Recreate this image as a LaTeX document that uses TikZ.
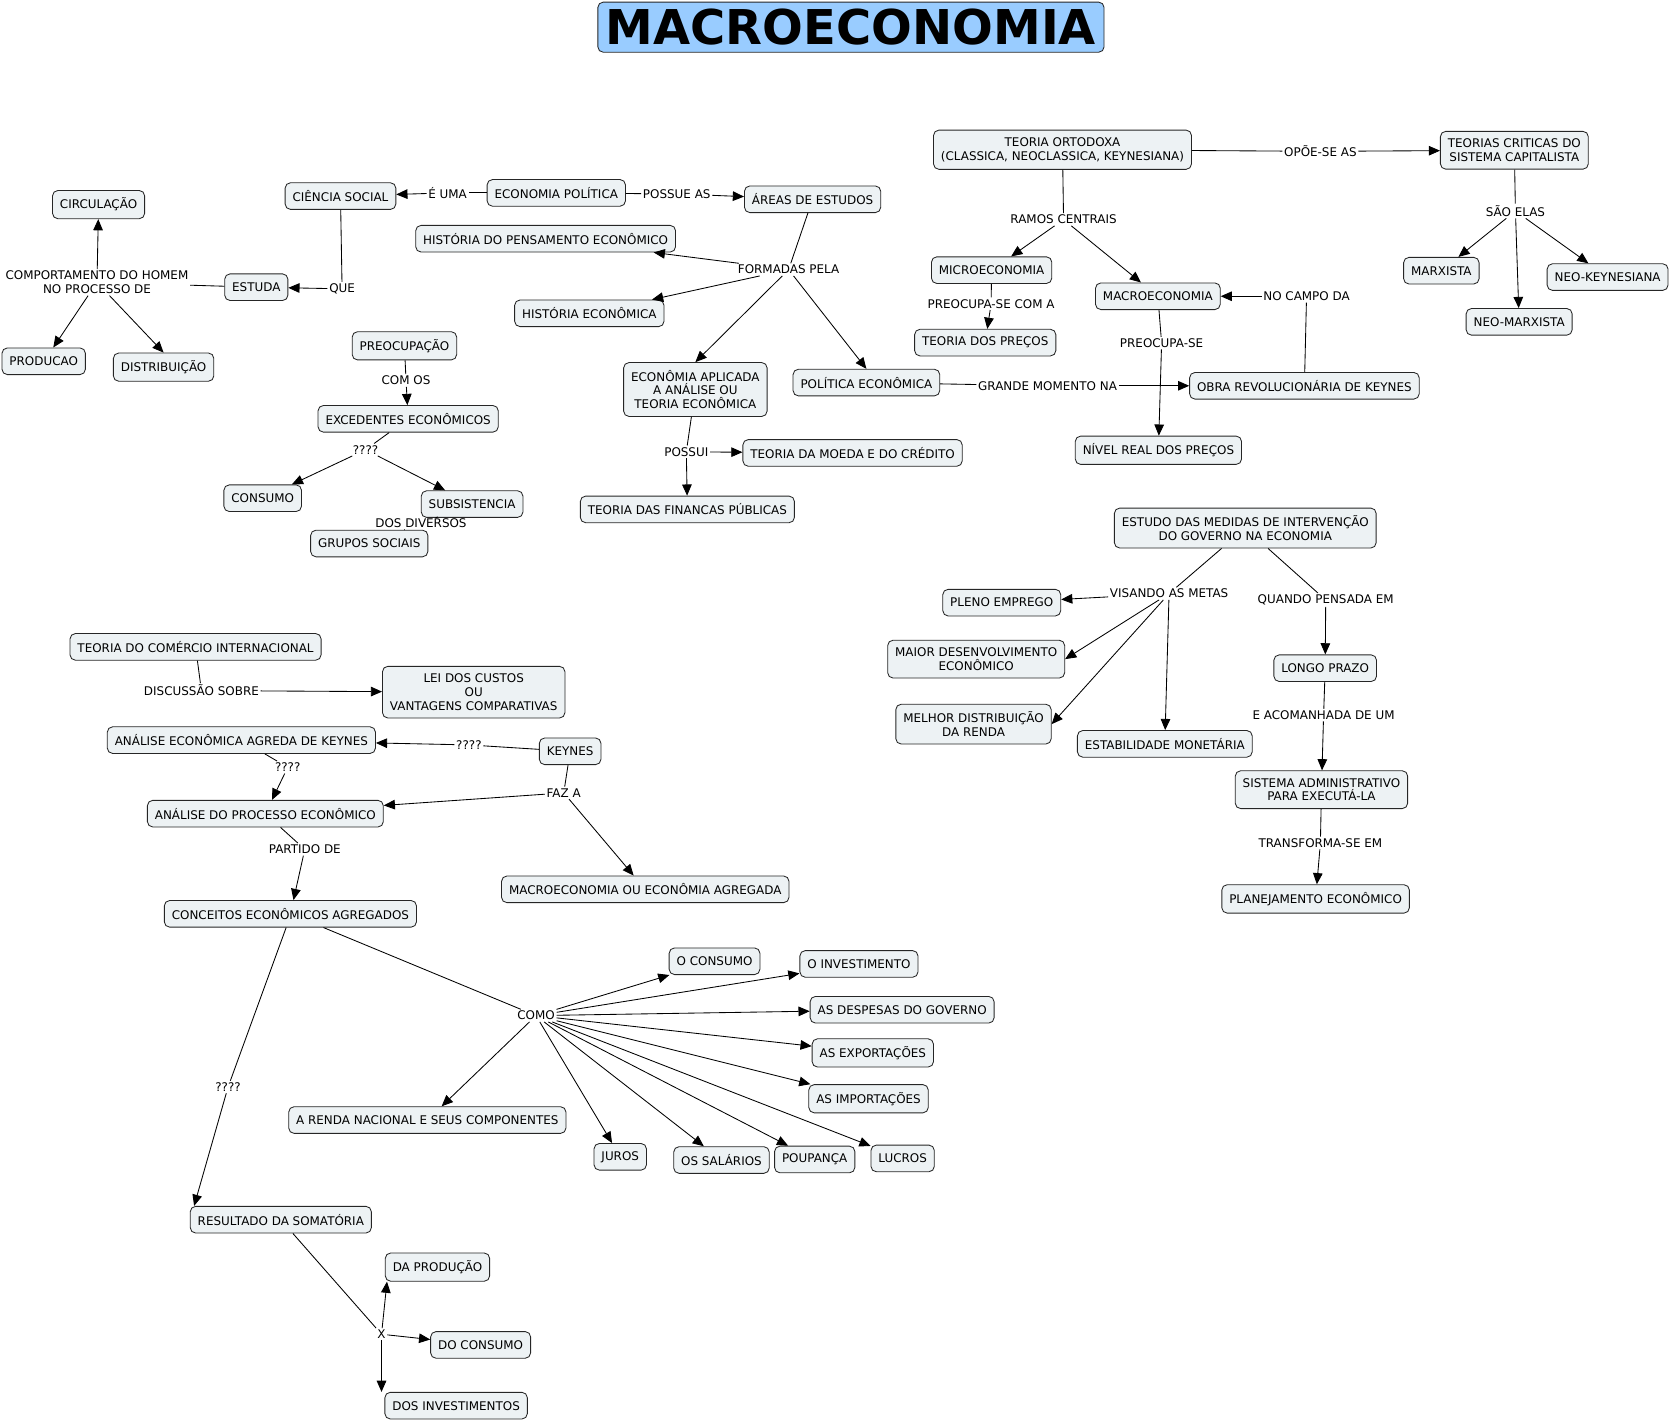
\documentclass[tikz,border=0pt]{standalone}
\usepackage{fontspec}
\setmainfont{DejaVu Sans}
\usetikzlibrary{arrows.meta}
\definecolor{boxfill}{RGB}{237,242,244}
\definecolor{titlefill}{RGB}{153,204,255}
\begin{document}
\begin{tikzpicture}[x=1bp,y=-1bp,
  concept/.style={draw=black!85, fill=boxfill, rounded corners=5bp, line width=0.8bp, inner xsep=7bp, inner ysep=7bp, minimum height=25bp, align=center, font=\fontsize{11.2bp}{13bp}\selectfont},
  lbl/.style={inner sep=1.5bp, align=center, font=\fontsize{11.2bp}{13bp}\selectfont},
  ln/.style={line width=0.8bp},
  arr/.style={line width=0.8bp, -{Triangle[length=10.5bp,width=9bp]}},
]
\useasboundingbox (0,0) rectangle (1568,1334);
\node[draw=black!85, fill=titlefill, rounded corners=5bp, line width=0.8bp, minimum width=475bp, minimum height=47bp, inner sep=0pt, font=\fontsize{45bp}{45bp}\bfseries\selectfont] (title) at (798.5,25.5) {MACROECONOMIA};

% concepts
\node[concept] (circ) at (92.5,192) {CIRCULAÇÃO};
\node[concept] (ciencia) at (319.5,184) {CIÊNCIA SOCIAL};
\node[concept] (ecopol) at (522,181) {ECONOMIA POLÍTICA};
\node[concept] (areas) at (762.5,187) {ÁREAS DE ESTUDOS};
\node[concept] (hpe) at (512,224) {HISTÓRIA DO PENSAMENTO ECONÔMICO};
\node[concept] (estuda) at (240.5,269.5) {ESTUDA};
\node[concept] (producao) at (41,339) {PRODUCAO};
\node[concept] (distrib) at (153.5,344.5) {DISTRIBUIÇÃO};
\node[concept] (histeco) at (553,294) {HISTÓRIA ECONÔMICA};
\node[concept] (preocup) at (379.5,324.5) {PREOCUPAÇÃO};
\node[concept] (exced) at (383,393) {EXCEDENTES ECONÔMICOS};
\node[concept] (consumo) at (246.5,467.5) {CONSUMO};
\node[concept] (subsist) at (443,473) {SUBSISTENCIA};
\node[concept] (grupos) at (346.5,510) {GRUPOS SOCIAIS};
\node[concept] (aplicada) at (652.5,365.5) {ECONÔMIA APLICADA\\A ANÁLISE OU\\TEORIA ECONÔMICA};
\node[concept] (politica) at (813,359) {POLÍTICA ECONÔMICA};
\node[concept] (moeda) at (800,425) {TEORIA DA MOEDA E DO CRÉDITO};
\node[concept] (financas) at (645,478) {TEORIA DAS FINANCAS PÚBLICAS};
\node[concept] (ortodoxa) at (997,140.5) {TEORIA ORTODOXA\\(CLASSICA, NEOCLASSICA, KEYNESIANA)};
\node[concept] (criticas) at (1421,141) {TEORIAS CRITICAS DO\\SISTEMA CAPITALISTA};
\node[concept] (micro) at (930.5,253.5) {MICROECONOMIA};
\node[concept] (macro) at (1086.5,278) {MACROECONOMIA};
\node[concept] (precos) at (924.5,321.5) {TEORIA DOS PREÇOS};
\node[concept] (obra) at (1224,362) {OBRA REVOLUCIONÁRIA DE KEYNES};
\node[concept] (nivel) at (1087,422.5) {NÍVEL REAL DOS PREÇOS};
\node[concept] (marxista) at (1352.5,254) {MARXISTA};
\node[concept] (neokey) at (1508.5,260) {NEO-KEYNESIANA};
\node[concept] (neomarx) at (1425.5,302) {NEO-MARXISTA};
\node[concept] (medidas) at (1168.5,495.5) {ESTUDO DAS MEDIDAS DE INTERVENÇÃO\\DO GOVERNO NA ECONOMIA};
\node[concept] (pleno) at (940,565.5) {PLENO EMPREGO};
\node[concept] (maior) at (916,618.5) {MAIOR DESENVOLVIMENTO\\ECONÔMICO};
\node[concept] (melhor) at (913.5,679.5) {MELHOR DISTRIBUIÇÃO\\DA RENDA};
\node[concept] (estab) at (1093,698) {ESTABILIDADE MONETÁRIA};
\node[concept] (longo) at (1243.5,627) {LONGO PRAZO};
\node[concept] (sistema) at (1240,741) {SISTEMA ADMINISTRATIVO\\PARA EXECUTÁ-LA};
\node[concept] (planej) at (1234.5,843.5) {PLANEJAMENTO ECONÔMICO};
\node[concept] (comercio) at (183.5,607) {TEORIA DO COMÉRCIO INTERNACIONAL};
\node[concept] (lei) at (444.5,649.5) {LEI DOS CUSTOS\\OU\\VANTAGENS COMPARATIVAS};
\node[concept] (agreda) at (226.5,694.5) {ANÁLISE ECONÔMICA AGREDA DE KEYNES};
\node[concept] (keynes) at (535,705) {KEYNES};
\node[concept] (processo) at (249,763.5) {ANÁLISE DO PROCESSO ECONÔMICO};
\node[concept] (macroou) at (605.5,834.5) {MACROECONOMIA OU ECONÔMIA AGREGADA};
\node[concept] (conceitos) at (272.5,857.5) {CONCEITOS ECONÔMICOS AGREGADOS};
\node[concept] (oconsumo) at (670.5,902) {O CONSUMO};
\node[concept] (oinvest) at (806,904.5) {O INVESTIMENTO};
\node[concept] (despesas) at (846.5,947.5) {AS DESPESAS DO GOVERNO};
\node[concept] (export) at (819,988) {AS EXPORTAÇÕES};
\node[concept] (import) at (815,1031) {AS IMPORTAÇÕES};
\node[concept] (renda) at (401,1051) {A RENDA NACIONAL E SEUS COMPONENTES};
\node[concept] (juros) at (582,1085.5) {JUROS};
\node[concept] (salarios) at (677,1088.5) {OS SALÁRIOS};
\node[concept] (poupanca) at (764.5,1088) {POUPANÇA};
\node[concept] (lucros) at (847,1087) {LUCROS};
\node[concept] (resultado) at (263.5,1144.5) {RESULTADO DA SOMATÓRIA};
\node[concept] (daprod) at (410.5,1189) {DA PRODUÇÃO};
\node[concept] (docons) at (451,1262) {DO CONSUMO};
\node[concept] (dosinv) at (428,1319) {DOS INVESTIMENTOS};

% linking phrases
\node[lbl] (leuma) at (420,181) {É UMA};
\node[lbl] (lpossue) at (635,182) {POSSUE AS};
\node[lbl] (lformadas) at (740,253) {FORMADAS PELA};
\node[lbl] (lque) at (321,271) {QUE};
\node[lbl] (lcomport) at (91,265) {COMPORTAMENTO DO HOMEM\\NO PROCESSO DE};
\node[lbl] (lcomos) at (381,357) {COM OS};
\node[lbl] (lqa) at (343,422) {????};
\node[lbl] (ldiversos) at (395,491) {DOS DIVERSOS};
\node[lbl] (lpossui) at (644,424) {POSSUI};
\node[lbl] (lramos) at (998,206) {RAMOS CENTRAIS};
\node[lbl] (lopoe) at (1239,142) {OPÕE-SE AS};
\node[lbl] (lsao) at (1422,198) {SÃO ELAS};
\node[lbl] (lpreocom) at (930,285) {PREOCUPA-SE COM A};
\node[lbl] (lpreo) at (1090,322) {PREOCUPA-SE};
\node[lbl] (lcampo) at (1226,278) {NO CAMPO DA};
\node[lbl] (lgrande) at (983,362) {GRANDE MOMENTO NA};
\node[lbl] (lvisando) at (1097,557) {VISANDO AS METAS};
\node[lbl] (lquando) at (1244,563) {QUANDO PENSADA EM};
\node[lbl] (lacom) at (1242,671) {E ACOMANHADA DE UM};
\node[lbl] (ltransf) at (1239,791) {TRANSFORMA-SE EM};
\node[lbl] (ldisc) at (189,648) {DISCUSSÃO SOBRE};
\node[lbl] (lqb) at (440,699) {????};
\node[lbl] (lqc) at (270,720) {????};
\node[lbl] (lfaz) at (529,744) {FAZ A};
\node[lbl] (lpartido) at (286,797) {PARTIDO DE};
\node[lbl] (lcomo) at (503,953) {COMO};
\node[lbl] (lqd) at (214,1020) {????};
\node[lbl] (lx) at (358,1252) {X};

% connectors
\draw[ln] (ecopol) -- (leuma); \draw[arr] (leuma) -- (ciencia);
\draw[ln] (ecopol) -- (lpossue); \draw[arr] (lpossue) -- (areas);
\draw[ln] (areas) -- (lformadas);
\draw[arr] (lformadas) -- (hpe);
\draw[arr] (lformadas) -- (histeco);
\draw[arr] (lformadas) -- (aplicada.north);
\draw[arr] (lformadas) -- (politica.north);
\draw[ln] (ciencia) -- (lque); \draw[arr] (lque) -- (estuda);
\draw[ln] (estuda) -- (lcomport);
\draw[arr] (lcomport) -- (circ);
\draw[arr] (lcomport) -- ([xshift=9bp]producao.north);
\draw[arr] (lcomport) -- (distrib.north);
\draw[ln] (preocup) -- (lcomos); \draw[arr] (lcomos) -- (exced);
\draw[ln] (exced) -- (lqa);
\draw[arr] (lqa) -- (consumo);
\draw[arr] (lqa) -- (subsist);
\draw[ln] (subsist) -- (ldiversos); \draw[ln] (ldiversos) -- (grupos);
\draw[ln] (aplicada) -- (lpossui);
\draw[arr] (lpossui) -- (moeda);
\draw[arr] (lpossui) -- (financas);
\draw[ln] (ortodoxa) -- (lramos);
\draw[arr] (lramos) -- (micro);
\draw[arr] (lramos) -- (macro);
\draw[ln] (ortodoxa) -- (lopoe); \draw[arr] (lopoe) -- (criticas);
\draw[ln] (criticas) -- (lsao);
\draw[arr] (lsao) -- (marxista);
\draw[arr] (lsao) -- (neokey);
\draw[arr] (lsao) -- (neomarx);
\draw[ln] (micro) -- (lpreocom); \draw[arr] (lpreocom) -- (precos);
\draw[ln] (macro) -- (lpreo); \draw[arr] (lpreo) -- (nivel);
\draw[ln] (obra) -- (lcampo); \draw[arr] (lcampo) -- (macro);
\draw[ln] (politica) -- (lgrande); \draw[arr] (lgrande) -- (obra);
\draw[ln] (medidas) -- (lvisando);
\draw[arr] (lvisando) -- (pleno);
\draw[arr] (lvisando) -- (maior.east);
\draw[arr] (lvisando) -- (melhor.east);
\draw[arr] (lvisando) -- (estab);
\draw[ln] (medidas) -- (lquando); \draw[arr] (lquando) -- (longo);
\draw[ln] (longo) -- (lacom); \draw[arr] (lacom) -- (sistema);
\draw[ln] (sistema) -- (ltransf); \draw[arr] (ltransf) -- (planej);
\draw[ln] (comercio) -- (ldisc); \draw[arr] (ldisc) -- (lei);
\draw[ln] (keynes) -- (lqb); \draw[arr] (lqb) -- (agreda);
\draw[ln] (agreda) -- (lqc); \draw[arr] (lqc) -- (processo);
\draw[ln] (keynes) -- (lfaz);
\draw[arr] (lfaz) -- (processo);
\draw[arr] (lfaz) -- (macroou);
\draw[ln] (processo) -- (lpartido); \draw[arr] (lpartido) -- (conceitos);
\draw[ln] (conceitos) -- (lcomo);
\draw[arr] (lcomo) -- (oconsumo);
\draw[arr] (lcomo) -- (oinvest);
\draw[arr] (lcomo) -- (despesas);
\draw[arr] (lcomo) -- (export);
\draw[arr] (lcomo) -- (import);
\draw[arr] (lcomo) -- (renda);
\draw[arr] (lcomo) -- (juros);
\draw[arr] (lcomo) -- (salarios);
\draw[arr] (lcomo) -- (poupanca);
\draw[arr] (lcomo) -- (lucros);
\draw[ln] ([xshift=-4bp]conceitos.south) -- (lqd); \draw[arr] (lqd) -- ([xshift=4bp]resultado.north west);
\draw[ln] (resultado) -- (lx);
\draw[arr] (lx) -- ([xshift=2bp]daprod.south west);
\draw[arr] (lx) -- (docons);
\draw[arr] (lx) -- (lx |- dosinv.north);
\end{tikzpicture}
\end{document}
